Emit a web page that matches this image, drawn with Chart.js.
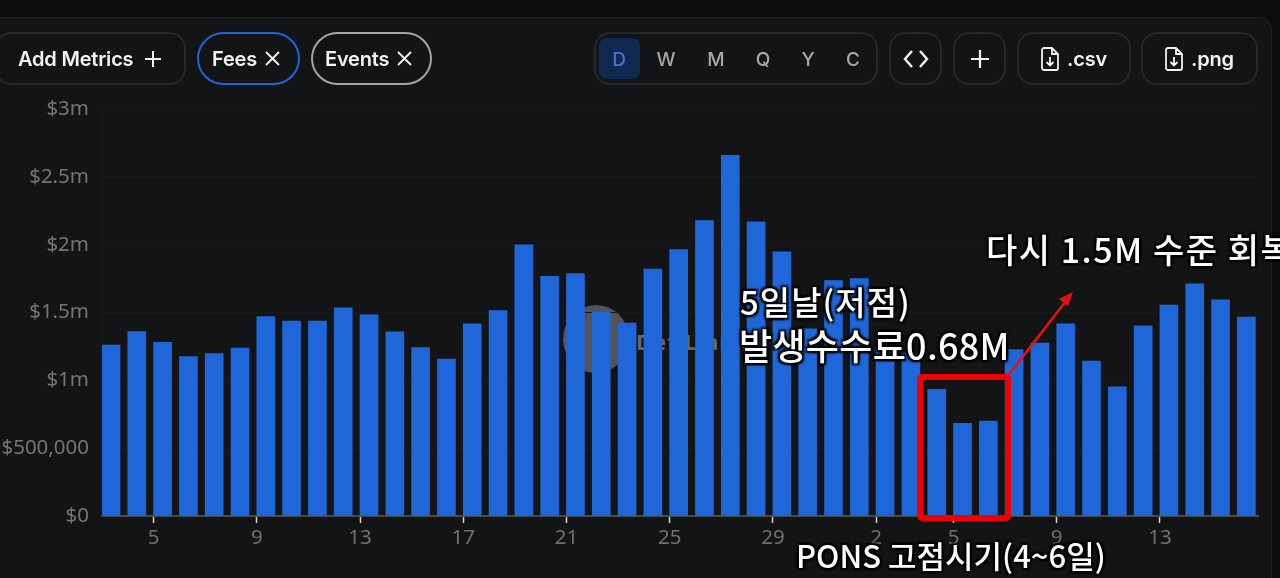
<!DOCTYPE html>
<html>
<head>
<meta charset="utf-8">
<script src="https://cdn.jsdelivr.net/npm/chart.js@4/dist/chart.umd.min.js"></script>
<style>
html, body { margin: 0; padding: 0; background: #0a0b0d; overflow: hidden; }
#page { position: relative; width: 1280px; height: 578px; overflow: hidden; font-family: Inter, sans-serif; }
#card { position: absolute; left: -20px; top: 17px; width: 1292px; height: 600px; background: #131416; border: 1px solid #1e2023; border-radius: 12px; box-sizing: border-box; }
#logo { position: absolute; left: 563px; top: 305px; width: 66px; height: 68px; border-radius: 50%; background: #545454; }
#mark { position: absolute; left: 636px; top: 326px; color: #666; font: 700 22px "Noto Sans", sans-serif; letter-spacing: 1px; }
canvas { position: absolute; left: 0; top: 0; }
.btn { position: absolute; top: 32px; height: 53px; box-sizing: border-box; border: 2px solid #26282b; border-radius: 16px; color: #f2f2f2; font-size: 20px; font-weight: 600; letter-spacing: -0.2px; display: flex; align-items: center; justify-content: center; gap: 8px; }
.pill { border-radius: 27px; }
.btn svg { display: block; }
.range { position: absolute; top: 48px; color: #a8a8a8; font-size: 19px; font-weight: 500; transform: translateX(-50%); }
#active { position: absolute; left: 599px; top: 38px; width: 41px; height: 41px; border-radius: 8px; background: #10294f; }
.note { position: absolute; color: #fff; font-family: "Noto Sans CJK KR", sans-serif; font-weight: 500; white-space: nowrap; line-height: 1; text-shadow: 2px 2px 2px #000, -2px 2px 2px #000, 2px -2px 2px #000, -2px -2px 2px #000; }
#over { position: absolute; left: 0; top: 0; }
</style>
</head>
<body>
<div id="page">
  <div id="card"></div>
  <div id="logo"></div>
  <div id="mark">DefiLlama</div>
  <canvas id="mycanvas" width="1280" height="578"></canvas>

  <div class="btn" style="left:-5px;width:191px;justify-content:flex-start;padding-left:21px;gap:11px;">Add Metrics
    <svg width="18" height="18" viewBox="0 0 18 18"><path d="M9 1v16M1 9h16" stroke="#f2f2f2" stroke-width="2"/></svg></div>
  <div class="btn pill" style="left:197px;width:103px;border-color:#1f66d8;justify-content:flex-start;padding-left:13px;">Fees
    <svg width="15" height="15" viewBox="0 0 15 15"><path d="M1 1l13 13M14 1L1 14" stroke="#f2f2f2" stroke-width="1.8"/></svg></div>
  <div class="btn pill" style="left:311px;width:121px;border-color:#a5a5a5;justify-content:flex-start;padding-left:12px;">Events
    <svg width="15" height="15" viewBox="0 0 15 15"><path d="M1 1l13 13M14 1L1 14" stroke="#f2f2f2" stroke-width="1.8"/></svg></div>

  <div class="btn" style="left:594px;width:284px;"></div>
  <div id="active"></div>
  <div class="range" style="left:619px;color:#4d6fd0;">D</div>
  <div class="range" style="left:666px;">W</div>
  <div class="range" style="left:716px;">M</div>
  <div class="range" style="left:763px;">Q</div>
  <div class="range" style="left:808px;">Y</div>
  <div class="range" style="left:853px;">C</div>

  <div class="btn" style="left:889px;width:53px;">
    <svg width="26" height="20" viewBox="0 0 26 20"><path d="M9 2L2 10l7 8M17 2l7 8-7 8" fill="none" stroke="#f2f2f2" stroke-width="2.4"/></svg></div>
  <div class="btn" style="left:953px;width:53px;">
    <svg width="20" height="20" viewBox="0 0 20 20"><path d="M10 1v18M1 10h18" stroke="#f2f2f2" stroke-width="2.2"/></svg></div>
  <div class="btn" style="left:1017px;width:114px;">
    <svg width="18" height="24" viewBox="0 0 18 24"><path d="M3 1h8l6 6v14a2 2 0 0 1-2 2H3a2 2 0 0 1-2-2V3a2 2 0 0 1 2-2zM11 1v6h6M9 10v8M5.500 15l3.500 3.500 3.500-3.500" fill="none" stroke="#f2f2f2" stroke-width="1.8"/></svg>.csv</div>
  <div class="btn" style="left:1141px;width:117px;">
    <svg width="18" height="24" viewBox="0 0 18 24"><path d="M3 1h8l6 6v14a2 2 0 0 1-2 2H3a2 2 0 0 1-2-2V3a2 2 0 0 1 2-2zM11 1v6h6M9 10v8M5.500 15l3.500 3.500 3.500-3.500" fill="none" stroke="#f2f2f2" stroke-width="1.8"/></svg>.png</div>

  <svg id="over" width="1280" height="578">
    <rect x="920" y="377" width="88" height="141" rx="2" fill="none" stroke="#f00000" stroke-width="6"/>
    <path d="M1007 377L1066 301" stroke="#e81010" stroke-width="2.500"/>
    <path d="M1073 292L1068 306L1059 299Z" fill="#e81010"/>
  </svg>

  <div class="note" style="left:740px;top:285px;font-size:33px;letter-spacing:1px;">5일날(저점)</div>
  <div class="note" style="left:739px;top:326px;font-size:36px;letter-spacing:0.3px;">발생수수료0.68M</div>
  <div class="note" style="left:986px;top:232px;font-size:34px;letter-spacing:1.500px;">다시 1.5M 수준 회복</div>
  <div class="note" style="left:796px;top:539px;font-size:31px;">PONS 고점시기(4~6일)</div>
</div>

<script>
var days = [3,4,5,6,7,8,9,10,11,12,13,14,15,16,17,18,19,20,21,22,23,24,25,26,27,28,29,30,31,
            1,2,3,4,5,6,7,8,9,10,11,12,13,14,15,16];
var fees = [1.26,1.36,1.28,1.175,1.197,1.237,1.47,1.437,1.437,1.535,1.483,1.358,1.242,1.156,1.417,1.515,
            1.998,1.766,1.786,1.503,1.422,1.82,1.964,2.178,2.658,2.168,1.947,1.38,1.735,1.75,1.25,1.2,
            0.934,0.683,0.70,1.227,1.274,1.417,1.141,0.953,1.402,1.555,1.712,1.594,1.466];
var xTickIndexes = [2,6,10,14,18,22,26,30,33,37,41];
var yTicks = [0,500000,1000000,1500000,2000000,2500000,3000000];
var yTickLabels = ["$0","$500,000","$1m","$1.5m","$2m","$2.5m","$3m"];

var points = [];
for (var i in fees) {
	points.push({x: Number(i), y: fees[i] * 1000000});
}

var ctx = document.getElementById("mycanvas");
var tickFont = {family: "'Noto Sans', sans-serif", size: 20.5};

var barGraph = new Chart(ctx, {
	type: "bar",
	data: {
		datasets: [
			// empty slot so the bar starts at its tick, not centred on it
			{label: "", data: []},
			{label: "Fees", data: points, backgroundColor: "#1f66d8", barThickness: 18}
		]
	},
	options: {
		responsive: false,
		animation: false,
		layout: {padding: {top: 109, right: 22, bottom: 0, left: 0}},
		plugins: {legend: {display: false}, tooltip: {enabled: false}},
		scales: {
			x: {
				type: "linear",
				offset: false,
				min: 0,
				max: 44.8,
				grid: {offset: false, drawOnChartArea: false, tickLength: 7, tickColor: "#d0d0d0", tickWidth: 1.500},
				border: {color: "#4a4a4a", width: 2},
				afterBuildTicks: function(scale) {
					scale.ticks = xTickIndexes.map(function(v){ return {value: v}; });
				},
				afterFit: function(scale) { scale.height = 62; },
				ticks: {
					font: tickFont,
					color: "#707070",
					padding: 3,
					maxRotation: 0,
					autoSkip: false,
					callback: function(v) { return days[v]; }
				}
			},
			y: {
				min: 0,
				max: 3000000,
				grid: {color: "#18191c", drawTicks: false},
				border: {color: "#18191c"},
				afterBuildTicks: function(scale) {
					scale.ticks = yTicks.map(function(v){ return {value: v}; });
				},
				afterFit: function(scale) { scale.width = 102; },
				ticks: {
					font: tickFont,
					color: "#757575",
					padding: 13,
					callback: function(v) { return yTickLabels[yTicks.indexOf(v)]; }
				}
			}
		}
	}
});
</script>
</body>
</html>
